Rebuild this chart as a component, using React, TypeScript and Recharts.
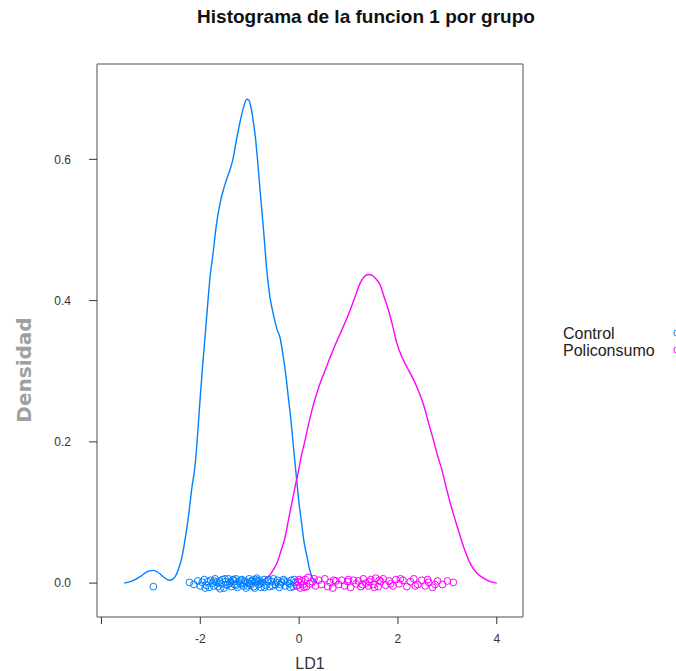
import { ComposedChart, Line, Scatter, XAxis, YAxis } from "recharts";

const xTicks = [-4, -2, 0, 2, 4];
const yTicks = [0, 0.2, 0.4, 0.6];
const groups = ["Control", "Policonsumo"];
const colors = ["#0080ff", "#ff00ff"];

// kernel density of LD1
const controlDensity: [number, number][] = [
  [-3.54, 0], [-3.35, 0.004], [-3.2, 0.01], [-3.05, 0.017], [-2.95, 0.018], [-2.85, 0.015],
  [-2.75, 0.009], [-2.63, 0.004], [-2.55, 0.006], [-2.45, 0.018], [-2.37, 0.037], [-2.3, 0.065],
  [-2.24, 0.094], [-2.17, 0.135], [-2.1, 0.17], [-2.05, 0.215], [-2.0, 0.264], [-1.95, 0.31],
  [-1.9, 0.352], [-1.85, 0.395], [-1.8, 0.435], [-1.75, 0.462], [-1.68, 0.504], [-1.6, 0.538],
  [-1.52, 0.56], [-1.46, 0.573], [-1.4, 0.585], [-1.35, 0.597], [-1.3, 0.615], [-1.24, 0.638],
  [-1.18, 0.658], [-1.12, 0.675], [-1.06, 0.685], [-1.02, 0.684], [-0.97, 0.672], [-0.93, 0.655],
  [-0.88, 0.628], [-0.84, 0.598], [-0.79, 0.556], [-0.72, 0.5], [-0.65, 0.44], [-0.59, 0.405],
  [-0.52, 0.38], [-0.45, 0.36], [-0.385, 0.347], [-0.32, 0.32], [-0.27, 0.295], [-0.22, 0.264],
  [-0.165, 0.23], [-0.115, 0.193], [-0.05, 0.146], [0.0, 0.112], [0.05, 0.085], [0.1, 0.058],
  [0.16, 0.037], [0.21, 0.02], [0.26, 0.009], [0.31, 0.003], [0.36, 0],
];

const poliDensity: [number, number][] = [
  [-0.86, 0], [-0.75, 0.003], [-0.62, 0.009], [-0.53, 0.018], [-0.45, 0.028], [-0.37, 0.045],
  [-0.28, 0.066], [-0.22, 0.088], [-0.15, 0.113], [-0.08, 0.137], [-0.01, 0.16], [0.05, 0.182],
  [0.12, 0.202], [0.19, 0.225], [0.26, 0.245], [0.34, 0.265], [0.425, 0.283], [0.53, 0.302],
  [0.63, 0.32], [0.73, 0.337], [0.83, 0.353], [0.93, 0.369], [1.03, 0.386], [1.13, 0.405],
  [1.23, 0.424], [1.32, 0.434], [1.4, 0.437], [1.47, 0.436], [1.55, 0.431], [1.64, 0.422],
  [1.72, 0.405], [1.81, 0.386], [1.9, 0.362], [1.98, 0.339], [2.08, 0.32], [2.18, 0.306],
  [2.28, 0.293], [2.38, 0.278], [2.47, 0.262], [2.55, 0.245], [2.63, 0.224], [2.72, 0.202],
  [2.8, 0.181], [2.89, 0.16], [2.97, 0.137], [3.06, 0.113], [3.16, 0.089], [3.26, 0.066],
  [3.36, 0.045], [3.46, 0.028], [3.6, 0.014], [3.73, 0.007], [3.87, 0.002], [4.0, 0],
];

// jittered rug of individual scores
const controlRug: [number, number][] = [
  [-2.95, -0.005], [-2.22, 0.001], [-2.13, -0.002], [-2.05, 0.003], [-2.0, -0.004], [-1.96, 0.001],
  [-1.92, 0.005], [-1.88, -0.003], [-1.85, 0.002], [-1.82, -0.006], [-1.79, 0.004], [-1.76, 0.0],
  [-1.73, -0.004], [-1.7, 0.006], [-1.67, 0.001], [-1.64, -0.005], [-1.61, 0.003], [-1.58, -0.001],
  [-1.55, 0.005], [-1.52, -0.007], [-1.49, 0.002], [-1.46, -0.003], [-1.43, 0.006], [-1.4, 0.0],
  [-1.37, -0.005], [-1.34, 0.004], [-1.31, -0.002], [-1.28, 0.006], [-1.25, -0.006], [-1.22, 0.002],
  [-1.19, -0.001], [-1.16, 0.005], [-1.13, -0.004], [-1.1, 0.003], [-1.07, -0.007], [-1.04, 0.001],
  [-1.01, 0.006], [-0.98, -0.003], [-0.95, 0.004], [-0.92, -0.005], [-0.89, 0.002], [-0.86, 0.007],
  [-0.83, -0.002], [-0.8, 0.004], [-0.77, -0.006], [-0.74, 0.001], [-0.71, 0.005], [-0.68, -0.003],
  [-0.64, 0.003], [-0.6, -0.005], [-0.56, 0.002], [-0.52, 0.006], [-0.48, -0.002], [-0.44, 0.004],
  [-0.4, -0.006], [-0.36, 0.001], [-0.32, 0.005], [-0.28, -0.004], [-0.24, 0.002], [-0.2, -0.001],
  [-0.16, 0.004], [-0.12, -0.005], [-0.08, 0.001], [-0.04, -0.003], [-1.9, -0.007], [-1.72, 0.003],
  [-1.6, -0.008], [-1.5, 0.006], [-1.38, 0.002], [-1.27, -0.003], [-1.18, 0.004], [-1.12, 0.0],
  [-1.05, -0.004], [-0.97, 0.002], [-0.9, -0.007], [-0.84, 0.003], [-0.78, 0.0], [-0.7, -0.006],
  [-0.62, 0.005], [-0.54, -0.004], [-0.46, 0.001], [-0.38, -0.002], [-0.3, 0.003], [-0.18, -0.006],
  [-0.1, 0.005], [-1.45, -0.002], [-1.33, 0.005], [-1.0, -0.001], [-0.88, 0.005],
];

const poliRug: [number, number][] = [
  [-0.05, -0.004], [-0.02, 0.002], [0.02, -0.007], [0.05, 0.003], [0.08, -0.002], [0.12, 0.005],
  [0.15, -0.005], [0.18, 0.008], [0.22, -0.001], [0.27, 0.002], [0.33, -0.004], [0.4, 0.004],
  [0.45, -0.002], [0.52, 0.006], [0.58, -0.005], [0.63, 0.001], [0.68, -0.007], [0.74, 0.003],
  [0.8, -0.002], [0.86, 0.004], [0.92, -0.004], [0.98, 0.002], [1.04, -0.006], [1.1, 0.004],
  [1.15, -0.001], [1.2, 0.003], [1.25, -0.005], [1.3, 0.006], [1.35, 0.0], [1.4, -0.004],
  [1.45, 0.005], [1.5, -0.002], [1.55, 0.007], [1.6, -0.005], [1.65, 0.002], [1.7, 0.006],
  [1.75, -0.003], [1.82, 0.003], [1.9, -0.004], [1.96, 0.005], [2.02, -0.001], [2.1, 0.004],
  [2.18, -0.005], [2.25, 0.002], [2.32, 0.006], [2.4, -0.002], [2.48, 0.004], [2.55, -0.004],
  [2.62, 0.001], [2.7, -0.006], [2.8, 0.003], [2.9, -0.002], [3.0, 0.003], [3.12, 0.001],
  [0.0, 0.005], [0.1, -0.006], [0.3, 0.006], [0.7, 0.004], [1.0, 0.005], [1.28, -0.002],
  [1.42, 0.002], [1.52, -0.006], [1.62, 0.004], [1.85, -0.001], [2.05, 0.006], [2.35, -0.004],
  [2.6, 0.005], [2.75, -0.002],
];

const toPoints = (pairs: [number, number][]) => pairs.map(([x, y]) => ({ x, y }));

const ring = (color: string) => (props: any) => (
  <circle cx={props.cx} cy={props.cy} r={3.4} fill="none" stroke={color} strokeWidth={1} />
);

const font = "'Liberation Sans', Arial, sans-serif";
const boxStroke = "#888";

export default function App() {
  return (
    <div style={{ position: "absolute", left: 0, top: 0, width: 676, height: 671, background: "#fff" }}>
      <div
        style={{
          position: "absolute",
          left: 366,
          top: 6,
          transform: "translateX(-50%)",
          whiteSpace: "nowrap",
          fontFamily: font,
          fontWeight: "bold",
          fontSize: 19,
          color: "#111",
        }}
      >
        Histograma de la funcion 1 por grupo
      </div>
      <ComposedChart width={676} height={671} margin={{ top: 0, right: 0, bottom: 0, left: 0 }}>
        <XAxis
          xAxisId="b"
          dataKey="x"
          type="number"
          domain={[-4.09, 4.53]}
          allowDataOverflow
          ticks={xTicks}
          tickFormatter={(v: number) => (v === -4 ? "" : String(v))}
          height={54}
          tickSize={7}
          tickMargin={10}
          stroke={boxStroke}
          axisLine={{ stroke: boxStroke, strokeWidth: 1.5 }}
          tickLine={{ stroke: "#333" }}
          tick={{ fill: "#333", fontSize: 12, fontFamily: font }}
          label={{
            content: (p: any) => (
              <text
                x={p.viewBox.x + p.viewBox.width / 2}
                y={p.viewBox.y + 52}
                textAnchor="middle"
                fontFamily={font}
                fontSize={16}
                fill="#333"
              >
                LD1
              </text>
            ),
          }}
        />
        <XAxis
          xAxisId="t"
          dataKey="x"
          type="number"
          orientation="top"
          domain={[-4.09, 4.53]}
          allowDataOverflow
          ticks={xTicks}
          height={64}
          tickSize={7}
          axisLine={{ stroke: boxStroke, strokeWidth: 1.5 }}
          tickLine={{ stroke: "#333" }}
          tick={false}
        />
        <YAxis
          yAxisId="l"
          dataKey="y"
          type="number"
          domain={[-0.048, 0.735]}
          allowDataOverflow
          ticks={yTicks}
          tickFormatter={(v: number) => v.toFixed(1)}
          width={97}
          tickSize={8}
          tickMargin={18}
          axisLine={{ stroke: boxStroke, strokeWidth: 1.5 }}
          tickLine={{ stroke: "#333" }}
          tick={{ fill: "#333", fontSize: 12, fontFamily: font }}
          label={{
            content: () => (
              <text
                x={31}
                y={370}
                transform="rotate(-90 31 370)"
                textAnchor="middle"
                fontFamily="'DejaVu Sans', sans-serif"
                fontWeight="bold"
                fontSize={20}
                fill="#a0a0a0"
              >
                Densidad
              </text>
            ),
          }}
        />
        <YAxis
          yAxisId="r"
          dataKey="y"
          type="number"
          orientation="right"
          domain={[-0.048, 0.735]}
          allowDataOverflow
          ticks={yTicks}
          width={153}
          tickSize={8}
          axisLine={{ stroke: boxStroke, strokeWidth: 1.5 }}
          tickLine={{ stroke: "#333" }}
          tick={false}
        />
        <Line
          xAxisId="b"
          yAxisId="l"
          data={toPoints(controlDensity)}
          dataKey="y"
          type="monotone"
          stroke={colors[0]}
          strokeWidth={1.4}
          dot={false}
          isAnimationActive={false}
        />
        <Line
          xAxisId="b"
          yAxisId="l"
          data={toPoints(poliDensity)}
          dataKey="y"
          type="monotone"
          stroke={colors[1]}
          strokeWidth={1.4}
          dot={false}
          isAnimationActive={false}
        />
        <Scatter
          xAxisId="b"
          yAxisId="l"
          data={toPoints(controlRug)}
          shape={ring(colors[0])}
          isAnimationActive={false}
        />
        <Scatter
          xAxisId="b"
          yAxisId="l"
          data={toPoints(poliRug)}
          shape={ring(colors[1])}
          isAnimationActive={false}
        />
      </ComposedChart>
      {groups.map((g, i) => (
        <div key={g}>
          <div
            style={{
              position: "absolute",
              left: 563,
              top: 325 + i * 17,
              fontFamily: font,
              fontSize: 16,
              lineHeight: "17px",
              color: "#222",
            }}
          >
            {g}
          </div>
          <svg
            style={{ position: "absolute", left: 668, top: 328 + i * 17 }}
            width={8}
            height={10}
          >
            <circle cx={9} cy={5} r={3.2} fill="none" stroke={colors[i]} strokeWidth={1} />
          </svg>
        </div>
      ))}
    </div>
  );
}
